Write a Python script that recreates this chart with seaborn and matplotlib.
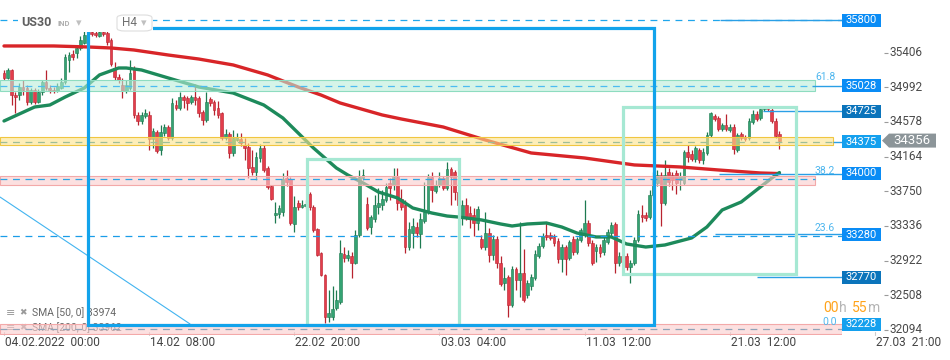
import numpy as np
import pandas as pd
import seaborn as sns
import matplotlib.pyplot as plt
from matplotlib.colors import to_rgba
from matplotlib.patches import Rectangle, Polygon, FancyBboxPatch

sns.set_theme(style="white")
plt.rcParams["font.family"] = ["Roboto", "DejaVu Sans"]

# --- US30 H4 candles ---
opens = [
    35163, 35103, 35199, 34900, 34900, 34996, 34984, 34817, 34960, 34817,
    34936, 35056, 34984, 34960, 34948, 34984, 35056, 35319, 35390, 35402,
    35462, 35521, 35617, 35641, 35629, 35605, 35653, 35641, 35557, 35223,
    35116, 35020, 34948, 34984, 35223, 34662, 34590, 34650, 34662, 34375,
    34459, 34244, 34447, 34518, 34387, 34781, 34745, 34876, 34865, 34817,
    34876, 34865, 34697, 34602, 34853, 34817, 34745, 34685, 34387, 34435,
    34208, 34363, 34375, 34304, 34280, 34041, 33981, 34148, 34268, 34029,
    33814, 33467, 33479, 33503, 33909, 33897, 33360, 33611, 33563, 33575,
    33718, 33563, 33300, 33014, 32751, 32249, 32249, 32357, 32428, 33002,
    32954, 32978, 32894, 33229, 33909, 33599, 33324, 33419, 33563, 33587,
    33647, 33850, 33826, 33921, 33659, 33587, 33085, 33252, 33324, 33240,
    33396, 33503, 33921, 33754, 33826, 33909, 33790, 34017, 33981, 33742,
    33455, 33587, 33491, 33467, 33372, 33181, 33085, 33252, 32990, 33181,
    32894, 32655, 32727, 32392, 32822, 32691, 32775, 32512, 32619, 32715,
    32978, 33097, 33228, 33228, 33205, 33157, 32942, 33085, 32954, 33181,
    33026, 33169, 33228, 33372, 33133, 33038, 33085, 33026, 33145, 33252,
    33360, 32894, 32978, 32978, 32846, 32894, 33169, 33467, 33467, 33443,
    33706, 33850, 33945, 33611, 33981, 33945, 33969, 33885, 33850, 34220,
    34196, 34136, 34244, 34124, 34208, 34423, 34650, 34626, 34495, 34542,
    34483, 34518, 34244, 34435, 34399, 34387, 34578, 34674, 34626, 34733,
    34745, 34721, 34590, 34435,
]
closes = [
    35103, 35199, 34900, 34876, 34996, 34960, 34817, 34960, 34817, 34936,
    35056, 34984, 34960, 34948, 35008, 35056, 35354, 35378, 35354, 35462,
    35557, 35617, 35641, 35629, 35617, 35653, 35629, 35533, 35271, 35116,
    35080, 34948, 35020, 35163, 34662, 34590, 34662, 34685, 34375, 34471,
    34232, 34459, 34518, 34387, 34805, 34745, 34876, 34841, 34805, 34876,
    34841, 34685, 34602, 34817, 34805, 34721, 34662, 34387, 34435, 34208,
    34387, 34399, 34327, 34268, 34029, 33981, 34160, 34268, 34005, 33802,
    33659, 33491, 33551, 33897, 33862, 33372, 33563, 33563, 33587, 33599,
    33563, 33288, 32990, 32751, 32249, 32297, 32345, 32452, 33014, 32954,
    32990, 32894, 33229, 33921, 33945, 33312, 33443, 33587, 33611, 33659,
    33802, 33790, 33921, 33611, 33563, 33085, 33300, 33336, 33252, 33419,
    33503, 33921, 33766, 33826, 33909, 33790, 34017, 33921, 33742, 33587,
    33587, 33443, 33432, 33372, 33539, 33085, 33252, 32990, 33181, 32894,
    32643, 32715, 32392, 32822, 32691, 32775, 32452, 32655, 32727, 33002,
    33097, 33216, 33205, 33193, 33133, 32942, 33085, 32942, 33145, 33026,
    33181, 33288, 33372, 33133, 32894, 33085, 33014, 33169, 33264, 33348,
    32894, 32978, 32906, 32846, 32894, 33169, 33479, 33443, 33432, 33706,
    33885, 33945, 33611, 33945, 33862, 33885, 33850, 33933, 34220, 34160,
    34136, 34268, 34124, 34220, 34423, 34685, 34614, 34495, 34542, 34495,
    34518, 34256, 34423, 34387, 34375, 34590, 34674, 34614, 34733, 34745,
    34733, 34590, 34411, 34356,
]
highs = [
    35199, 35223, 35211, 34936, 35044, 35080, 35020, 34984, 34984, 34972,
    35080, 35199, 35020, 34996, 35044, 35104, 35390, 35414, 35438, 35486,
    35605, 35677, 35689, 35689, 35677, 35689, 35665, 35677, 35581, 35295,
    35152, 35104, 35080, 35319, 35247, 34697, 34697, 34733, 34709, 34507,
    34483, 34542, 34554, 34542, 34865, 34841, 34936, 34900, 34888, 34900,
    35032, 34888, 34721, 34936, 34876, 34841, 34829, 34697, 34495, 34459,
    34483, 34447, 34447, 34387, 34327, 34244, 34220, 34315, 34304, 34053,
    33826, 33623, 33587, 33969, 34005, 33921, 33694, 33647, 33647, 33647,
    33742, 33587, 33312, 33026, 32763, 32572, 32619, 32572, 33169, 33085,
    33049, 33026, 33288, 34005, 34017, 33682, 33467, 33706, 33790, 33766,
    33850, 33909, 34029, 34029, 33778, 33647, 33384, 33432, 33384, 33491,
    33862, 33957, 33981, 33885, 33981, 33933, 34100, 34041, 34005, 33885,
    33647, 33670, 33575, 33551, 33575, 33229, 33503, 33312, 33229, 33216,
    32978, 32846, 32751, 32858, 32846, 33384, 33061, 32691, 32763, 33049,
    33133, 33252, 33384, 33264, 33240, 33193, 33121, 33109, 33169, 33216,
    33205, 33312, 33647, 33408, 33169, 33121, 33121, 33205, 33300, 33384,
    33384, 33026, 33026, 33014, 32930, 33205, 33527, 33587, 33503, 33766,
    33981, 34005, 33981, 34124, 34029, 33981, 34005, 33981, 34244, 34304,
    34244, 34292, 34268, 34268, 34459, 34697, 34674, 34650, 34566, 34674,
    34554, 34554, 34447, 34459, 34423, 34626, 34721, 34709, 34769, 34769,
    34769, 34745, 34626, 34471,
]
lows = [
    35080, 35092, 34781, 34685, 34841, 34900, 34781, 34793, 34793, 34805,
    34900, 34960, 34924, 34924, 34936, 34972, 35032, 35175, 35319, 35342,
    35438, 35510, 35593, 35605, 35593, 35593, 35605, 35498, 35247, 35080,
    35044, 34865, 34924, 34960, 34626, 34542, 34554, 34626, 34244, 34268,
    34208, 34184, 34411, 34363, 34363, 34721, 34721, 34745, 34721, 34793,
    34781, 34638, 34542, 34578, 34769, 34662, 34626, 34363, 34363, 34148,
    34172, 34351, 34292, 34124, 33909, 33945, 33885, 34100, 33981, 33778,
    33647, 33372, 33432, 33455, 33814, 33348, 33264, 33527, 33551, 33551,
    33527, 33264, 32978, 32739, 32177, 32189, 32213, 32333, 32404, 32906,
    32918, 32715, 32882, 33205, 33885, 33288, 33240, 33384, 33479, 33527,
    33623, 33647, 33766, 33527, 33527, 33014, 33049, 33073, 33205, 33073,
    33372, 33479, 33623, 33730, 33802, 33766, 33766, 33587, 33647, 33432,
    33348, 33408, 33312, 33216, 33288, 33061, 33049, 32906, 32930, 32835,
    32619, 32572, 32249, 32368, 32572, 32488, 32428, 32476, 32572, 32691,
    32954, 33073, 33169, 33169, 33097, 32894, 32787, 32751, 32930, 32990,
    33002, 33145, 33205, 33097, 32870, 32906, 32966, 32990, 33121, 33216,
    32775, 32858, 32858, 32811, 32655, 32870, 33145, 33384, 33396, 33419,
    33682, 33814, 33336, 33587, 33814, 33766, 33718, 33766, 33826, 34100,
    34112, 34100, 34088, 34076, 34184, 34399, 34590, 34471, 34471, 34471,
    34459, 34196, 34220, 34363, 34351, 34363, 34554, 34590, 34602, 34709,
    34709, 34566, 34387, 34256,
]

# moving averages, sampled along the curves
sma50_idx = [0, 8, 12, 16, 21, 25, 30, 32, 36, 43, 51, 60, 68, 73, 77, 81, 87, 90, 94, 98,
             103, 107, 112, 116, 119, 125, 130, 133, 137, 142, 146, 150, 155, 159, 163, 168,
             173, 180, 184, 188, 193, 197, 201, 203]
sma50_val = [34590, 34757, 34781, 34876, 34984, 35140, 35223, 35223, 35199, 35104, 34996,
             34924, 34781, 34626, 34447, 34268, 34029, 33945, 33850, 33742, 33671, 33551,
             33491, 33455, 33443, 33408, 33360, 33336, 33360, 33372, 33324, 33252, 33205,
             33205, 33121, 33085, 33109, 33193, 33324, 33527, 33623, 33766, 33909, 33974]
sma200_idx = [0, 13, 22, 28, 34, 43, 51, 60, 69, 77, 83, 88, 99, 104, 115, 126, 138, 152,
              165, 177, 187, 198, 203]
sma200_val = [35486, 35486, 35474, 35462, 35438, 35378, 35330, 35259, 35140, 34996, 34900,
              34805, 34662, 34614, 34518, 34363, 34208, 34148, 34065, 34041, 34005, 33969,
              33962]

x_tick_idx = [0, 38, 76, 114, 152, 190, 228]
x_tick_labels = ["04.02.2022  00:00", "14.02  08:00", "22.02  20:00", "03.03  04:00",
                 "11.03  12:00", "21.03  12:00", "27.03  21:00"]
y_ticks = [35406, 34992, 34578, 34164, 33750, 33336, 32922, 32508, 32094]

level_labels = ["35800", "35028", "34725", "34375", "34000", "33280", "32770", "32228"]
level_marks = [35793, 35008, 34706, 34345, 33963, 33234, 32723, 32162]
fib_labels = ["61.8", "38.2", "23.6", "0.0"]
fib_marks = [35115, 33993, 33312, 32186]


# pixel helpers for layout only
def px2i(px):
    return (px - 4) / 3.82


def py2p(py):
    return 36035 - 11.943 * py


PX_P = 11.943  # price per pixel

fig = plt.figure(figsize=(9.5, 3.6), dpi=100)
ax = fig.add_axes([0, 25 / 360, 842 / 950, 335 / 360])
ax.set_xlim(px2i(0), px2i(842))
ax.set_ylim(py2p(335), py2p(0))
ax.axis("off")

# candles
df = pd.DataFrame({"o": opens, "c": closes, "h": highs, "l": lows})
df["i"] = np.arange(len(df))
up = (df["c"] >= df["o"]).to_numpy()
G, G_E = "#34a373", "#1d7a50"
R, R_E = "#e33d4b", "#b8232f"
ax.vlines(df["i"], df["l"], df["h"], colors=np.where(up, G_E, R_E), lw=0.9, zorder=2)
body_lo = df[["o", "c"]].min(axis=1)
body_h = (df["c"] - df["o"]).abs().clip(lower=18)
ax.bar(df["i"], body_h, bottom=body_lo, width=0.72, color=np.where(up, G, R),
       edgecolor=np.where(up, G_E, R_E), linewidth=0.4, zorder=2.5)

# SMAs
sns.lineplot(x=sma200_idx, y=sma200_val, ax=ax, color="#d82528", lw=2.4, zorder=3,
             solid_capstyle="round", solid_joinstyle="round")
sns.lineplot(x=sma50_idx, y=sma50_val, ax=ax, color="#1d8a5b", lw=2.4, zorder=3,
             solid_capstyle="round", solid_joinstyle="round")

# zones
zones = [
    (34952, 35080, 815, "#b9eed9", "#8edcc0"),
    (34300, 34395, 833, "#fde38a", "#f0c640"),
    (33826, 33933, 815, "#fbcccc", "#f3a9a9"),
    (32046, 32166, 842, "#fbcccc", "#f3a9a9"),
]
for lo, hi, end, fc, ec in zones:
    ax.add_patch(Rectangle((px2i(0), lo), px2i(end) - px2i(0), hi - lo,
                           facecolor=to_rgba(fc, 0.6), edgecolor=ec, lw=0.8, zorder=4))

# dashed horizontal lines
dashed = [
    (35793, 842, "#1fa6ec"),
    (35004, 812, "#4cbcf0"),
    (34339, 833, "#9dbe98"),
    (33894, 815, "#2aa5e5"),
    (33213, 842, "#1a9de8"),
    (32102, 842, "#8fa3b8"),
]
for p, end, c in dashed:
    ax.hlines(p, px2i(0), px2i(end), colors=c, lw=0.9, linestyles=(0, (5.5, 4.5)), zorder=5)

# solid connectors to price tags
links = [(35793, 720), (35004, 812), (34706, 763), (34345, 833), (33957, 719),
         (33240, 715), (32723, 757)]
for p, start in links:
    ax.hlines(p, px2i(start), px2i(842), colors="#2a9fe6", lw=1.0, zorder=5, clip_on=False)

# trendline
ax.plot([px2i(0), px2i(190)], [33682, 32166], color="#42b4f0", lw=0.8, zorder=5)

# rectangles
ax.add_patch(Rectangle((79.2, 32154), 40.0, 34133 - 32154, fill=False,
                       edgecolor="#a6e8d3", lw=2.3, zorder=6))
ax.add_patch(Rectangle((162.0, 32763), 45.2, 34753 - 32763, fill=False,
                       edgecolor="#a6e8d3", lw=2.3, zorder=6))
ax.add_patch(Rectangle((22.0, 32154), 148.2, 35697 - 32154, fill=False,
                       edgecolor="#12a3eb", lw=2.3, zorder=7))

# fib labels
for lab, p in zip(fib_labels, fib_marks):
    x = 815 if lab != "0.0" else 822
    ax.text(px2i(x), p, lab, color="#4db6ee", fontsize=7.5, ha="left", va="center", zorder=8)

# price tags on the right
tag_colors = ["#0a8cf5", "#0a8cf5", "#0b74bb", "#14a0ee", "#0a8cf5", "#0a8cf5", "#0b74bb",
              "#14a0ee"]
for lab, p, col in zip(level_labels, level_marks, tag_colors):
    ax.add_patch(Rectangle((px2i(842), p - 6.5 * PX_P), 39 / 3.82, 13 * PX_P,
                           facecolor=col, edgecolor="none", clip_on=False, zorder=8))
    ax.text(px2i(861.5), p, lab, color="white", ha="center", va="center", fontsize=8,
            clip_on=False, zorder=9)

# current price tag
cur = closes[-1]
h7 = 7 * PX_P
ax.add_patch(Polygon([(px2i(882), cur), (px2i(889), cur + h7), (px2i(936), cur + h7),
                      (px2i(936), cur - h7), (px2i(889), cur - h7)], closed=True,
                     facecolor="#8c9599", edgecolor="none", clip_on=False, zorder=8))
ax.text(px2i(912), cur, f"{cur}", color="white", ha="center", va="center", fontsize=9.5,
        clip_on=False, zorder=9)

# right axis ticks
ax.hlines(y_ticks, px2i(884), px2i(888), colors="#9a9a9a", lw=0.8, clip_on=False)
for v in y_ticks:
    ax.text(px2i(890), v, str(v), color="#4a4a4a", fontsize=8.5, ha="left", va="center")

# bottom axis ticks
xt = ax.get_xaxis_transform()
for i, lab in zip(x_tick_idx, x_tick_labels):
    ax.text(i + 0.3, -0.021, lab, transform=xt, color="#444444", fontsize=8.6, ha="left",
            va="center", clip_on=False)
    ax.plot([i, i], [0, 0.009], transform=xt, color="#cccccc", lw=0.8, clip_on=False)


# header
def fx(px):
    return px / 950


def fy(py):
    return 1 - py / 360


fig.add_artist(Rectangle((fx(18), fy(32)), fx(153) - fx(18), 18 / 360, transform=fig.transFigure,
                         facecolor="white", edgecolor="none", zorder=10))
fig.add_artist(FancyBboxPatch((fx(117), fy(31)), fx(152) - fx(117), 16 / 360,
                              boxstyle="round,pad=0,rounding_size=0.008",
                              transform=fig.transFigure, facecolor="white",
                              edgecolor="#dddddd", lw=0.8, zorder=11))
fig.text(fx(21), fy(23), "US30", fontsize=9, fontweight="bold", color="#5f5f5f",
         va="center", zorder=12)
fig.text(fx(57), fy(24), "IND", fontsize=5.5, fontweight="bold", color="#b0b0b0",
         va="center", zorder=12)
fig.text(fx(76), fy(23), "▾", fontsize=8, color="#c0c0c0", va="center", zorder=12)
fig.text(fx(122), fy(23), "H4", fontsize=8.5, color="#707070", va="center", zorder=12)
fig.text(fx(141), fy(23), "▾", fontsize=8, color="#c0c0c0", va="center", zorder=12)

# timer
timer_parts = [(823, "00", "#ffa31a"), (839, "h", "#b5b5b5"), (852, "55", "#ffa31a"),
               (868, "m", "#b5b5b5")]
for x, t, c in timer_parts:
    fig.text(fx(x), fy(308.5), t, fontsize=10, color=c, va="center")

# indicator legend (second row sits under the pink zone)
legend_rows = [(313, f"SMA [50, 0] {sma50_val[-1]}"), (327.5, f"SMA [200, 0] {sma200_val[-1]}")]
for yy, txt in legend_rows:
    ax.text(fx(6), fy(yy), "≡", transform=fig.transFigure, fontsize=8, color="#9a9a9a",
            va="center", zorder=3.5)
    ax.text(fx(19), fy(yy), "✖", transform=fig.transFigure, fontsize=6.5, color="#9a9a9a",
            va="center", zorder=3.5)
    ax.text(fx(32), fy(yy), txt, transform=fig.transFigure, fontsize=7.5, color="#666666",
            va="center", zorder=3.5)

fig.savefig("out.png", dpi=100, facecolor="white")
